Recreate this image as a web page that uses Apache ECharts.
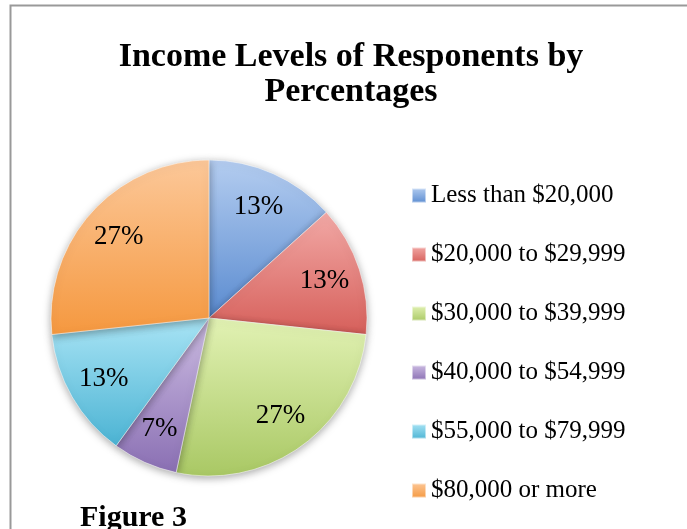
<!DOCTYPE html>
<html><head><meta charset="utf-8">
<script src="https://cdn.jsdelivr.net/npm/echarts@6/dist/echarts.min.js"></script>
<style>html,body{margin:0;padding:0;background:#fff}#c{width:687px;height:529px}</style>
</head><body><div id="c"></div>
<script>
const categories = ['Less than $20,000','$20,000 to $29,999','$30,000 to $39,999','$40,000 to $54,999','$55,000 to $79,999','$80,000 or more'];
const counts = [2, 2, 4, 1, 2, 4];
const lightColors = ['#b4cdf0','#f2a9a6','#e2f2b4','#cdbde3','#a9e4f5','#fcc899'];
const darkColors  = ['#5a8bd0','#d65f5a','#a9c864','#8a6fb3','#4bb3d3','#f5983f'];

const grad = i => new echarts.graphic.LinearGradient(0,0,0,1,[{offset:0,color:lightColors[i]},{offset:1,color:darkColors[i]}]);
const chart = echarts.init(document.getElementById('c'));
const R = 158, CX = 209, CY = 318;
chart.setOption({
  animation:false,
  title:{text:'Income Levels of Responents by\nPercentages',left:346,top:35,textAlign:'center',
    textStyle:{fontFamily:'Liberation Serif',fontWeight:'bold',fontSize:34,lineHeight:35,color:'#000'}},
  legend:{orient:'vertical',left:411,top:183,padding:0,icon:'rect',itemWidth:14,itemHeight:14,itemGap:34,
    data:categories,
    textStyle:{fontFamily:'Liberation Serif',fontSize:25,lineHeight:22,color:'#000'}},
  graphic:[
    {type:'rect',shape:{x:10.5,y:5.5,width:700,height:560},style:{fill:'none',stroke:'#999999',lineWidth:2}},
    {type:'text',left:80,top:503,style:{text:'Figure 3',font:'bold 30px "Liberation Serif"',fill:'#000'}}
  ],
  series:[
    {type:'pie',center:[CX,CY],radius:[0,R],startAngle:90,clockwise:true,percentPrecision:0,
     label:{show:false},labelLine:{show:false},
     itemStyle:{borderColor:'rgba(255,255,255,0.5)',borderWidth:1,shadowBlur:8,shadowColor:'rgba(0,0,0,0.35)',shadowOffsetY:2},
     data:categories.map((n,i)=>({name:n,value:counts[i],itemStyle:{color:grad(i)}}))},
    {type:'pie',center:[CX,CY],radius:[R*0.5,R],startAngle:90,clockwise:true,percentPrecision:0,silent:true,
     label:{show:true,position:'inside',formatter:'{d}%',fontFamily:'Liberation Serif',fontSize:27,color:'#000'},
     labelLine:{show:false},
     itemStyle:{color:'rgba(0,0,0,0)'},
     data:categories.map((n,i)=>({name:n,value:counts[i]}))}
  ]
});
</script></body></html>
